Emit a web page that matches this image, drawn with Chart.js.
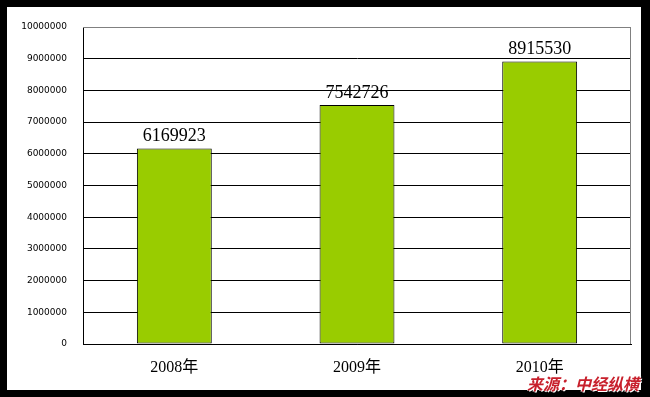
<!DOCTYPE html>
<html>
<head>
<meta charset="utf-8">
<script src="https://cdn.jsdelivr.net/npm/chart.js@4"></script>
<style>
  html, body { margin: 0; padding: 0; background: #000; }
  #frame { position: relative; width: 650px; height: 397px; background: #000; overflow: hidden; }
  #inner { position: absolute; left: 7px; top: 7px; width: 634px; height: 383px; background: #fff; }
  #c { position: absolute; left: 0; top: 0; }
  #src { position: absolute; left: 527px; top: 373px; font-family: "Noto Sans CJK SC", sans-serif;
         font-weight: bold; font-style: italic; font-size: 16px; line-height: 20px; color: #C8202C;
         text-shadow: 1px 1px 0 #fff, -1px 0 0 #fff, 0 -1px 0 #fff; white-space: nowrap; }
</style>
</head>
<body>
<div id="frame">
  <div id="inner"></div>
  <canvas id="c" width="650" height="397"></canvas>
  <div id="src">来源：中经纵横</div>
</div>
<script>
const categories = ["2008年", "2009年", "2010年"];
const values = [6169923, 7542726, 8915530];
const yTicks = [0, 1000000, 2000000, 3000000, 4000000, 5000000, 6000000, 7000000, 8000000, 9000000, 10000000];

const labelPlugin = {
  id: 'valueLabels',
  afterDatasetsDraw(chart) {
    const ctx = chart.ctx;
    const meta = chart.getDatasetMeta(0);
    ctx.save();
    ctx.font = '18px "Liberation Serif", serif';
    ctx.fillStyle = '#000';
    ctx.textAlign = 'center';
    ctx.textBaseline = 'bottom';
    meta.data.forEach((bar, i) => {
      ctx.fillText(String(values[i]), bar.x, bar.y - 3);
    });
    ctx.restore();
  }
};

const borderPlugin = {
  id: 'plotBorder',
  afterDraw(chart) {
    const a = chart.chartArea;
    const ctx = chart.ctx;
    ctx.save();
    ctx.strokeStyle = '#808080';
    ctx.lineWidth = 1;
    ctx.beginPath();
    ctx.moveTo(a.left, a.top + 0.5);
    ctx.lineTo(a.right - 0.5, a.top + 0.5);
    ctx.lineTo(a.right - 0.5, a.bottom);
    ctx.stroke();
    ctx.restore();
  }
};

new Chart(document.getElementById('c'), {
  type: 'bar',
  data: {
    labels: categories,
    datasets: [{
      data: values,
      backgroundColor: '#99CC00',
      borderColor: '#000',
      borderWidth: 1,
      borderSkipped: false,
      categoryPercentage: 1,
      barPercentage: 0.41
    }]
  },
  options: {
    responsive: false,
    animation: false,
    devicePixelRatio: 1,
    layout: { padding: { left: 0, top: 27, right: 19, bottom: 0 } },
    plugins: { legend: { display: false }, tooltip: { enabled: false } },
    scales: {
      x: {
        grid: { display: false, drawTicks: false },
        border: { color: '#000', width: 1 },
        ticks: { color: '#000', padding: 14, font: { family: '"Liberation Serif", "Noto Sans CJK SC", serif', size: 16 } },
        afterFit(s) { s.height = 53; }
      },
      y: {
        min: 0, max: 10000000,
        afterBuildTicks(s) { s.ticks = yTicks.map(v => ({ value: v })); },
        grid: {
          drawTicks: false,
          color: ctx => (ctx.tick && ctx.tick.value === 10000000) ? '#808080' : '#000',
          lineWidth: 1
        },
        border: { color: '#000', width: 1 },
        ticks: {
          color: '#000', padding: 16,
          font: { family: '"DejaVu Sans", sans-serif', size: 9 },
          callback: v => String(v)
        },
        afterFit(s) { s.width = 83; }
      }
    }
  },
  plugins: [labelPlugin, borderPlugin]
});
</script>
</body>
</html>
